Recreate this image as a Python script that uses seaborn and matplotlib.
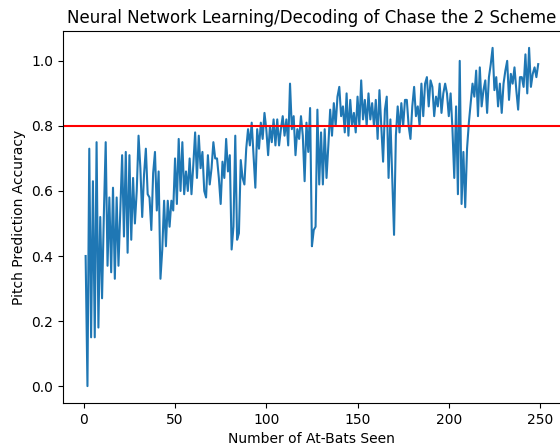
import numpy as np
import pandas as pd
import matplotlib
matplotlib.use("Agg")
import matplotlib.pyplot as plt
import seaborn as sns

seg1 = [0.40, 0.00, 0.73, 0.15, 0.63, 0.15, 0.75, 0.18, 0.52, 0.27, 0.53, 0.75, 0.37, 0.58, 0.35,
        0.61, 0.33, 0.58, 0.37, 0.54, 0.71, 0.46, 0.72, 0.41, 0.71, 0.45, 0.64, 0.50, 0.60, 0.77,
        0.67, 0.52, 0.65, 0.73, 0.59]
seg2 = [0.58, 0.48, 0.655, 0.72, 0.54, 0.66, 0.33, 0.42, 0.57, 0.43, 0.57, 0.49, 0.57, 0.54, 0.70,
        0.56, 0.76, 0.60, 0.75, 0.59, 0.66, 0.60, 0.70, 0.59, 0.68, 0.78, 0.64, 0.77, 0.67, 0.72,
        0.60, 0.58, 0.71, 0.62, 0.67, 0.75]
seg3 = [0.70, 0.70, 0.64, 0.56, 0.69, 0.64, 0.76, 0.66, 0.71, 0.42, 0.49, 0.77, 0.45, 0.47, 0.695,
        0.64, 0.62, 0.73, 0.79, 0.74, 0.81, 0.71, 0.61, 0.79, 0.73, 0.81, 0.76, 0.84, 0.79, 0.71,
        0.80, 0.75, 0.82]
seg4 = [0.74, 0.82, 0.74, 0.79, 0.83, 0.77, 0.82, 0.74, 0.93, 0.79, 0.83, 0.71, 0.79, 0.76, 0.83,
        0.77, 0.63, 0.81, 0.72, 0.855, 0.43, 0.48, 0.49, 0.85, 0.62, 0.78, 0.62, 0.79, 0.64, 0.74,
        0.85, 0.77, 0.87, 0.80, 0.89, 0.92, 0.83]
seg5 = [0.86, 0.78, 0.90, 0.77, 0.88, 0.80, 0.84, 0.78, 0.89, 0.80, 0.94, 0.82, 0.88, 0.80, 0.90,
        0.82, 0.87, 0.80, 0.88, 0.76, 0.91, 0.80, 0.69, 0.85, 0.89, 0.64, 0.82, 0.64, 0.465, 0.77,
        0.86, 0.78, 0.87, 0.80, 0.88]
seg6 = [0.88, 0.80, 0.76, 0.86, 0.92, 0.83, 0.86, 0.80, 0.93, 0.83, 0.93, 0.95, 0.86, 0.94, 0.92,
        0.83, 0.89, 0.86, 0.93, 0.84, 0.90, 0.93, 0.90, 0.83, 0.90, 0.79, 0.64, 0.86, 0.59, 1.00,
        0.56, 0.72, 0.55, 0.73, 0.81, 0.87]
seg7 = [0.93, 0.89, 0.97, 0.83, 0.98, 0.86, 0.91, 0.94, 0.84, 0.95, 0.99, 1.04, 0.91, 0.95, 0.86,
        0.93, 0.84, 0.93, 0.97, 1.00, 0.88, 0.96, 0.93, 0.98, 0.91, 0.85, 0.95, 0.95, 0.92, 1.02,
        0.90, 1.04, 0.92, 0.96, 0.98, 0.95, 0.99]

accuracy = seg1 + seg2 + seg3 + seg4 + seg5 + seg6 + seg7
at_bats = list(range(1, len(accuracy) + 1))
threshold = 0.8

title = "Neural Network Learning/Decoding of Chase the 2 Scheme"
xlabel = "Number of At-Bats Seen"
ylabel = "Pitch Prediction Accuracy"

df = pd.DataFrame({"at_bats": at_bats, "accuracy": accuracy})

fig = plt.figure(figsize=(5.6, 4.44), dpi=100)
ax = fig.add_axes([0.1125, 0.0923, 0.889, 0.838])
sns.lineplot(data=df, x="at_bats", y="accuracy", ax=ax, color="#1f77b4", linewidth=1.5)
ax.axhline(threshold, color="red", linewidth=1.5)
ax.set_title(title, fontsize=12)
ax.set_xlabel(xlabel, fontsize=10)
ax.set_ylabel(ylabel, fontsize=10)
ax.set_xticks([0, 50, 100, 150, 200, 250])
ax.set_yticks([0.0, 0.2, 0.4, 0.6, 0.8, 1.0])
fig.savefig("out.png", dpi=100)
